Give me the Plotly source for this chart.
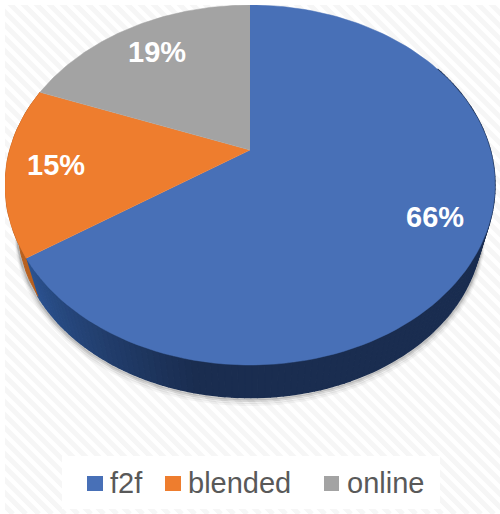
import math
import plotly.graph_objects as go

labels = ["f2f", "blended", "online"]
values = [65.6, 15.2, 19.2]
colors = ["#4870b7", "#ee7d2e", "#a3a3a3"]
text_pos = [(435, 217), (56, 165), (157, 52)]

W, H = 500, 514
APEX_X, APEX_Y = 250, 150
# perspective of the disc, top surface and the (smaller, lower) underside
K = 0.1944
SX, SY = 240.3, 173.2
LOW_SCALE = 0.947
LOW_DROP = 44


def project(theta, scale=1.0, drop=0):
    u, v = math.sin(theta), math.cos(theta)
    d = 1 + K * v
    return APEX_X + scale * SX * u / d, APEX_Y - scale * SY * v / d + drop


def mix(a, b, t):
    ca = [int(a[i:i + 2], 16) for i in (1, 3, 5)]
    cb = [int(b[i:i + 2], 16) for i in (1, 3, 5)]
    return "rgb(%d,%d,%d)" % tuple(ca[i] + (cb[i] - ca[i]) * t for i in range(3))


fig = go.Figure()

# faint hatch behind the chart
hx, hy = [], []
for c in range(-H, W + H, 13):
    hx += [c, c + H, None]
    hy += [0, H, None]
fig.add_trace(go.Scatter(x=hx, y=hy, mode="lines", line=dict(color="#f6f6f6", width=5),
                         hoverinfo="skip", showlegend=False))

# shadow under the rim
for off, alpha in [(7, 0.05), (5, 0.08), (3, 0.14), (1.5, 0.2)]:
    sx, sy = [], []
    for i in range(181):
        x, y = project(math.radians(60 + i * 1.2), LOW_SCALE, LOW_DROP)
        sx.append(x + off * 0.3 * math.sin(math.radians(60 + i * 1.2)))
        sy.append(y + off)
    fig.add_trace(go.Scatter(x=sx, y=sy, mode="lines", line=dict(color="rgba(60,60,60,%s)" % alpha, width=3),
                             hoverinfo="skip", showlegend=False))

# side wall, walked in small steps so it can shade
start = 0
angles = []
for val in values:
    angles.append((start, start + val / sum(values) * 2 * math.pi))
    start = angles[-1][1]

a0, a1 = angles[0]
steps = 180
for i in range(steps):
    t0 = a0 + (a1 - a0) * i / steps
    t1 = a0 + (a1 - a0) * (i + 1) / steps
    if t1 < math.radians(60):
        continue
    p = [project(t0), project(t1), project(t1, LOW_SCALE, LOW_DROP), project(t0, LOW_SCALE, LOW_DROP)]
    # dark navy over the right and bottom, lighter towards the left end
    shade = max(0, (math.degrees(t0) - 190) / 47)
    col = mix("#1a2d50", "#2d5594", shade)
    fig.add_trace(go.Scatter(x=[q[0] for q in p], y=[q[1] for q in p], mode="lines", fill="toself",
                             fillcolor=col, line=dict(color=col, width=1.5), hoverinfo="skip", showlegend=False))

b0, b1 = angles[1]
orange_side = [project(b0 + (b1 - b0) * i / 20) for i in range(21)] + \
              [project(b0 + (b1 - b0) * i / 20, LOW_SCALE, LOW_DROP) for i in range(20, -1, -1)]
fig.add_trace(go.Scatter(x=[q[0] for q in orange_side], y=[q[1] for q in orange_side], mode="lines", fill="toself",
                         fillcolor="#b8601f", line=dict(color="#b8601f", width=1), hoverinfo="skip", showlegend=False))

# top surface
for (t0, t1), name, col in zip(angles, labels, colors):
    n = 120
    pts = [(APEX_X, APEX_Y)] + [project(t0 + (t1 - t0) * i / n) for i in range(n + 1)]
    fig.add_trace(go.Scatter(x=[q[0] for q in pts], y=[q[1] for q in pts], mode="lines", fill="toself",
                             fillcolor=col, line=dict(color=col, width=0.5), name=name,
                             hoverinfo="skip", showlegend=False))

for val, (x, y) in zip(values, text_pos):
    fig.add_annotation(x=x, y=y, text="<b>%.0f%%</b>" % val, showarrow=False,
                       font=dict(family="Liberation Sans", size=29, color="white"))

# legend panel
fig.add_shape(type="rect", x0=62, x1=440, y0=456, y1=509, fillcolor="white", line=dict(width=0), layer="above")
legend_box = [(87, 103), (165, 181), (324, 339)]
legend_text_x = [108, 186, 345]
for name, col, (bx0, bx1), tx in zip(labels, colors, legend_box, legend_text_x):
    fig.add_shape(type="rect", x0=bx0, x1=bx1, y0=476, y1=491, fillcolor=col, line=dict(width=0), layer="above")
    fig.add_annotation(x=tx, y=483, text=name, showarrow=False, xanchor="left",
                       font=dict(family="Liberation Sans", size=29, color="#595959"))

# white frame round the image
fig.add_shape(type="rect", x0=0, x1=5, y0=0, y1=H, fillcolor="white", line=dict(width=0), layer="above")
fig.add_shape(type="rect", x0=0, x1=W, y0=0, y1=5, fillcolor="white", line=dict(width=0), layer="above")

fig.update_layout(width=W, height=H, margin=dict(l=0, r=0, t=0, b=0), paper_bgcolor="white",
                  plot_bgcolor="white", showlegend=False,
                  xaxis=dict(range=[0, W], visible=False, fixedrange=True),
                  yaxis=dict(range=[H, 0], visible=False, fixedrange=True))

fig.write_html("out.html", config={"displayModeBar": False}, post_script="document.body.style.margin='0';")
